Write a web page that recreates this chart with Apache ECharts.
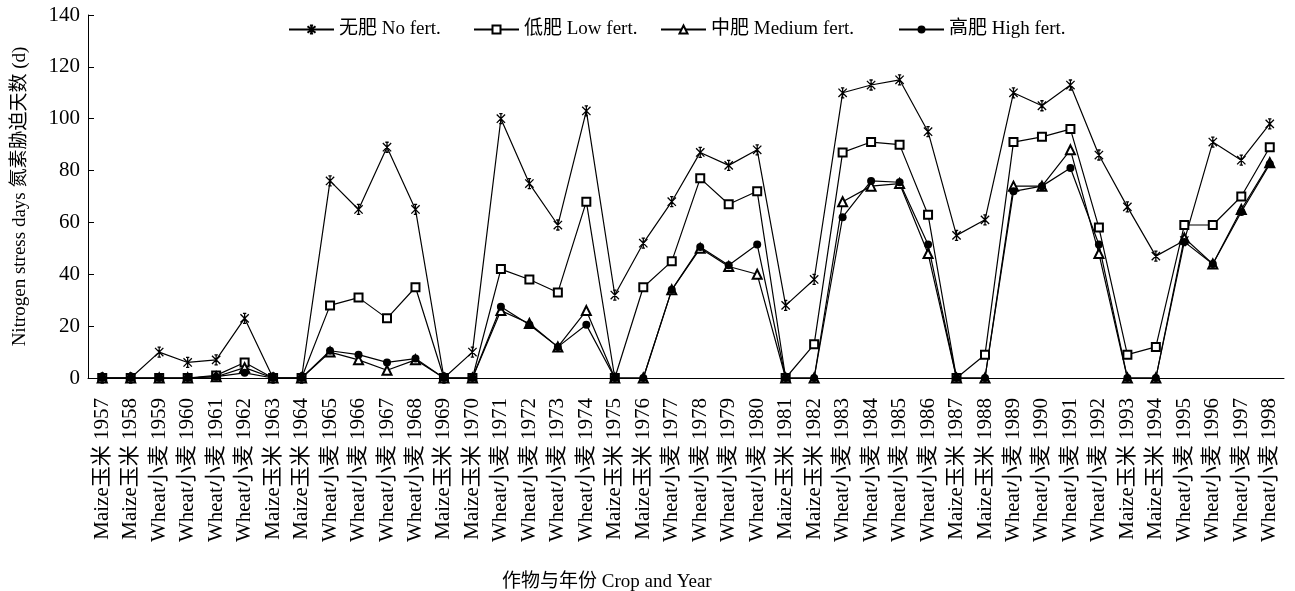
<!DOCTYPE html>
<html><head><meta charset="utf-8">
<script src="https://cdn.jsdelivr.net/npm/echarts@6/dist/echarts.min.js"></script>
<style>html,body{margin:0;padding:0;background:#fff}#c{width:1295px;height:591px}</style>
</head><body><div id="c"></div>
<script>
const years = [1957,1958,1959,1960,1961,1962,1963,1964,1965,1966,1967,1968,1969,1970,1971,1972,1973,1974,1975,1976,1977,1978,1979,1980,1981,1982,1983,1984,1985,1986,1987,1988,1989,1990,1991,1992,1993,1994,1995,1996,1997,1998];
const crops = ['Maize玉米','Maize玉米','Wheat小麦','Wheat小麦','Wheat小麦','Wheat小麦','Maize玉米','Maize玉米','Wheat小麦','Wheat小麦','Wheat小麦','Wheat小麦','Maize玉米','Maize玉米','Wheat小麦','Wheat小麦','Wheat小麦','Wheat小麦','Maize玉米','Maize玉米','Wheat小麦','Wheat小麦','Wheat小麦','Wheat小麦','Maize玉米','Maize玉米','Wheat小麦','Wheat小麦','Wheat小麦','Wheat小麦','Maize玉米','Maize玉米','Wheat小麦','Wheat小麦','Wheat小麦','Wheat小麦','Maize玉米','Maize玉米','Wheat小麦','Wheat小麦','Wheat小麦','Wheat小麦'];
const noFert     = [0,0,10,6,7,23,0,0,76,65,89,65,0,10,100,75,59,103,32,52,68,87,82,88,28,38,110,113,115,95,55,61,110,105,113,86,66,47,53,91,84,98];
const lowFert    = [0,0,0,0,1,6,0,0,28,31,23,35,0,0,42,38,33,68,0,35,45,77,67,72,0,13,87,91,90,63,0,9,91,93,96,58,9,12,59,59,70,89];
const mediumFert = [0,0,0,0,0.5,4,0,0,10,7,3,7,0,0,26,21,12,26,0,0,34,50,43,40,0,0,68,74,75,48,0,0,74,74,88,48,0,0,54,44,65,83];
const highFert   = [0,0,0,0,0.5,2,0,0,10.5,9,6,7.5,0,0,27.5,20.5,12,20.5,0,0,34,50.5,43.5,51.5,0,0,62,76,75.5,51.5,0,0,72,74,81,51.5,0,0,52.5,44,64,82.5];
const seriesNames = ['无肥 No fert.','低肥 Low fert.','中肥 Medium fert.','高肥 High fert.'];
const yTicks = {min:0, max:140, interval:20};

const categories = years.map((y,i)=>crops[i]+' '+y);
const FONT = "'Liberation Serif','Noto Sans CJK SC',serif";
const star = 'path://M0,0L10,10M10,0L0,10M5,-1L5,11M3,-1L7,-1M3,11L7,11';

const chart = echarts.init(document.getElementById('c'));
const legendLefts = [283, 468, 655, 893];
chart.setOption({
  animation:false,
  backgroundColor:'#fff',
  textStyle:{fontFamily:FONT,color:'#000'},
  title:{text:'作物与年份 Crop and Year', left:497, top:568,
    textStyle:{fontFamily:FONT,fontSize:19,fontWeight:'normal',color:'#000'}},
  legend: seriesNames.map((n,i)=>({data:[n], left:legendLefts[i], top:15, itemWidth:45, itemHeight:10, itemGap:6,
    textStyle:{fontFamily:FONT,fontSize:19,color:'#000'}})),
  grid:{left:88, right:11, top:15, bottom:213, containLabel:false},
  xAxis:{type:'category', data:categories, boundaryGap:true,
    axisLine:{lineStyle:{color:'#000',width:1}},
    axisTick:{inside:true,length:5,lineStyle:{color:'#000'}},
    axisLabel:{rotate:90, interval:0, margin:20, fontFamily:FONT, fontSize:21, color:'#000'}},
  yAxis:{type:'value', min:yTicks.min, max:yTicks.max, interval:yTicks.interval,
    name:'Nitrogen stress days 氮素胁迫天数 (d)', nameLocation:'middle', nameGap:58,
    nameTextStyle:{fontFamily:FONT,fontSize:19,color:'#000'},
    axisLine:{show:true,lineStyle:{color:'#000',width:1}},
    axisTick:{show:true,inside:true,length:6,lineStyle:{color:'#000'}},
    splitLine:{show:false},
    axisLabel:{fontFamily:FONT,fontSize:21,color:'#000',margin:8}},
  series:[
    {name:seriesNames[0], type:'line', data:noFert, symbol:star, symbolSize:10, symbolKeepAspect:true,
      lineStyle:{color:'#000',width:1.2}, itemStyle:{color:'#000',borderColor:'#000',borderWidth:1.3}},
    {name:seriesNames[1], type:'line', data:lowFert, symbol:'emptyRect', symbolSize:8,
      lineStyle:{color:'#000',width:1.2}, itemStyle:{color:'#000',borderWidth:1.2}},
    {name:seriesNames[2], type:'line', data:mediumFert, symbol:'emptyTriangle', symbolSize:9,
      lineStyle:{color:'#000',width:1.2}, itemStyle:{color:'#000',borderWidth:1.2}},
    {name:seriesNames[3], type:'line', data:highFert, symbol:'circle', symbolSize:8,
      lineStyle:{color:'#000',width:1.2}, itemStyle:{color:'#000'}}
  ]
});
</script></body></html>
